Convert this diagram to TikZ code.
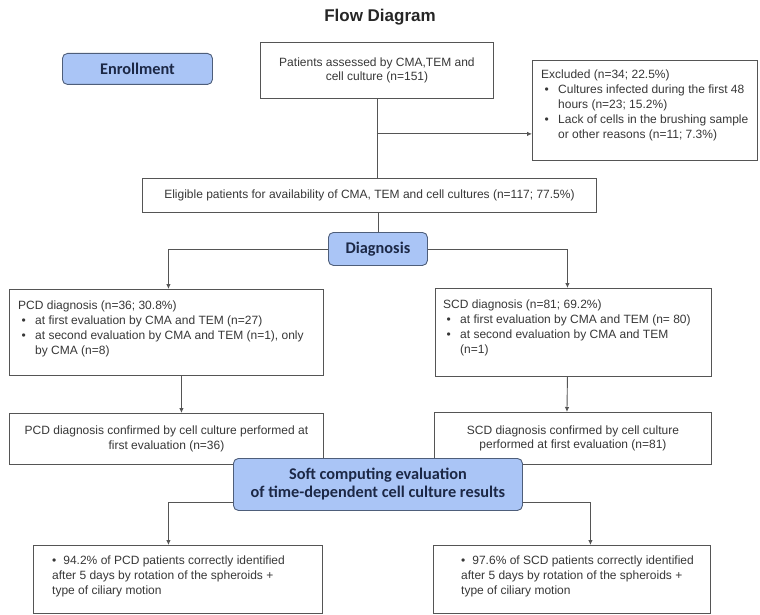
\documentclass[tikz,border=0pt]{standalone}
\usepackage{fontspec}
\setmainfont{Liberation Sans}
\newfontfamily\calibri{Carlito}
\usetikzlibrary{arrows.meta,positioning}
\definecolor{edge}{RGB}{85,85,85}
\definecolor{stage}{RGB}{170,197,246}
\definecolor{stageline}{RGB}{78,94,122}
\definecolor{ink}{RGB}{55,55,55}
\definecolor{navy}{RGB}{28,40,70}
\newcommand{\bul}{\makebox[17pt][l]{\hspace{3.5pt}\textbullet}}
\newcommand{\cont}{\hspace*{17pt}}

\begin{document}
\begin{tikzpicture}[x=1pt,y=-1pt,>={Latex[length=5pt,width=4.5pt]},
  font=\fontsize{12}{14.8}\selectfont,text=ink,
  box/.style={draw=edge,line width=.9pt,anchor=north west,inner sep=0pt},
  stage/.style={draw=stageline,fill=stage,line width=.9pt,rounded corners=5pt,
    anchor=north west,inner sep=0pt,align=center,text=navy,
    font=\calibri\bfseries\fontsize{16.3}{18}\selectfont},
  flow/.style={draw=edge,line width=.9pt},
  txt/.style={anchor=north west,align=left,inner sep=0pt}]
\useasboundingbox (0,0) rectangle (760,615);
\node[font=\bfseries\fontsize{17}{19}\selectfont,text=black!85] (title) at (380,17) {Flow Diagram};
% enrollment
\node[stage,minimum width=150pt,minimum height=31pt] (enroll) at (62,53) {Enrollment};
\node[box,align=center,minimum width=233pt,minimum height=56pt] (assess) at (260,42)
  {Patients assessed by CMA,TEM and\\cell culture (n=151)};
\node[box,minimum width=225pt,minimum height=100pt] (excl) at (532,60) {};
\node[txt] (excltxt) at ([xshift=9pt,yshift=-10pt]excl.north west)
  {Excluded (n=34; 22.5\%)\\
   \bul Cultures infected during the first 48\\
   \cont hours (n=23; 15.2\%)\\
   \bul Lack of cells in the brushing sample\\
   \cont or other reasons (n=11; 7.3\%)};
\node[box,minimum width=454pt,minimum height=34pt] (elig) at (142,178)
  {Eligible patients for availability of CMA, TEM and cell cultures (n=117; 77.5\%)};
% diagnosis
\node[stage,minimum width=99pt,minimum height=33pt] (diag) at (328,232) {Diagnosis};
\node[box,minimum width=314pt,minimum height=86pt] (pcd) at (9,289) {};
\node[txt] (pcdtxt) at ([xshift=9pt,yshift=-12pt]pcd.north west)
  {PCD diagnosis (n=36; 30.8\%)\\
   \bul at first evaluation by CMA and TEM (n=27)\\
   \bul at second evaluation by CMA and TEM (n=1), only\\
   \cont by CMA (n=8)};
\node[box,minimum width=276pt,minimum height=88pt] (scd) at (435,288) {};
\node[txt] (scdtxt) at ([xshift=8pt,yshift=-12pt]scd.north west)
  {SCD diagnosis (n=81; 69.2\%)\\
   \bul at first evaluation by CMA and TEM (n= 80)\\
   \bul at second evaluation by CMA and TEM\\
   \cont (n=1)};
\node[box,align=center,minimum width=314pt,minimum height=51pt] (pcdc) at (9,413)
  {PCD diagnosis confirmed by cell culture performed at\\first evaluation (n=36)};
\node[box,align=center,minimum width=277pt,minimum height=52pt] (scdc) at (434,412)
  {SCD diagnosis confirmed by cell culture\\performed at first evaluation (n=81)};
% soft computing
\node[stage,minimum width=289pt,minimum height=52pt] (soft) at (233,458)
  {Soft computing evaluation\\of time-dependent cell culture results};
\node[box,minimum width=289pt,minimum height=68pt] (res1) at (33,545) {};
\node[txt] (res1txt) at ([xshift=19pt,yshift=-11pt]res1.north west)
  {\textbullet\hspace{7pt}94.2\% of PCD patients correctly identified\\
   after 5 days by rotation of the spheroids +\\
   type of ciliary motion};
\node[box,minimum width=277pt,minimum height=68pt] (res2) at (433,545) {};
\node[txt] (res2txt) at ([xshift=28pt,yshift=-11pt]res2.north west)
  {\textbullet\hspace{7pt}97.6\% of SCD patients correctly identified\\
   after 5 days by rotation of the spheroids +\\
   type of ciliary motion};
% connectors
\coordinate (split) at ([yshift=-35pt]assess.south);
\draw[flow] (assess.south) -- (assess.south |- elig.north);
\draw[flow,->] (split) -- (split -| excl.west);
\draw[flow] (diag.north |- elig.south) -- (diag.north);
\draw[flow,->] (diag.west) -| ([xshift=2pt]pcd.north);
\draw[flow,->] (diag.east) -| ([xshift=-6pt]scd.north);
\draw[flow,->] ([xshift=15pt]pcd.south) -- ([xshift=15pt]pcdc.north);
\draw[flow,->] ([xshift=-6pt]scd.south) -- ([xshift=-6pt]scdc.north);
\draw[flow,->] ([yshift=-18pt]soft.west) -| ([xshift=-9.5pt]res1.north);
\draw[flow,->] ([yshift=-18pt]soft.east) -| ([xshift=18.5pt]res2.north);
\end{tikzpicture}
\end{document}
